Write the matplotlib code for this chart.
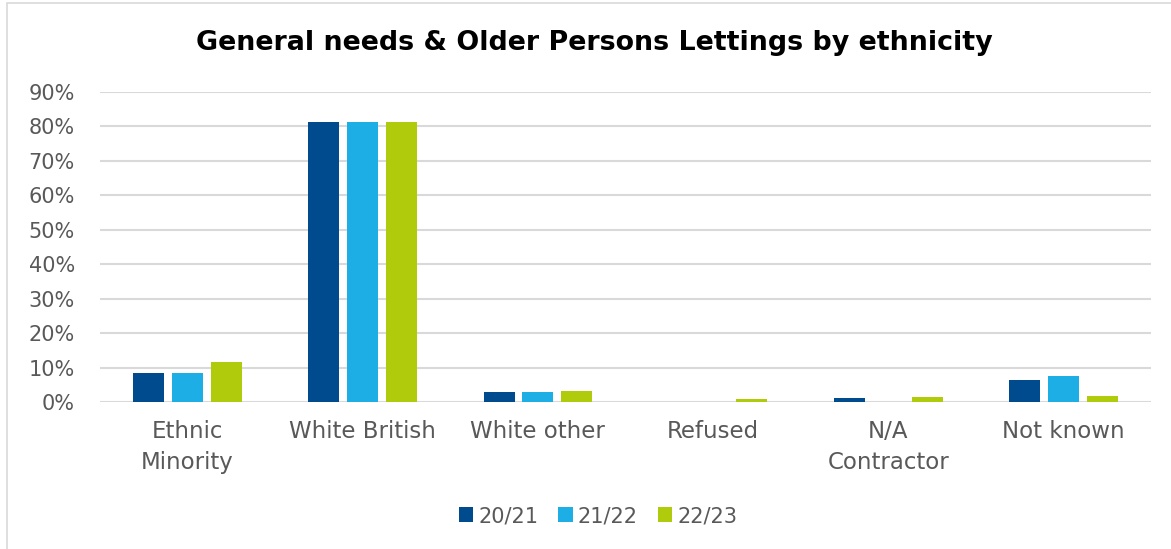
import matplotlib
matplotlib.use("Agg")
import matplotlib.pyplot as plt
from matplotlib.patches import Rectangle
import numpy as np

categories = ["Ethnic\nMinority", "White British", "White other", "Refused", "N/A\nContractor", "Not known"]
series_names = ["20/21", "21/22", "22/23"]
v_2021 = [8.3, 81.2, 3.0, 0.0, 1.2, 6.3]
v_2122 = [8.3, 81.2, 2.9, 0.0, 0.0, 7.5]
v_2223 = [11.7, 81.2, 3.2, 1.0, 1.4, 1.8]
colors = ["#004B8D", "#1CAEE4", "#B0CB0B"]
yticks = [0, 10, 20, 30, 40, 50, 60, 70, 80, 90]

W, H = 1171, 549
fig = plt.figure(figsize=(W / 100, H / 100), dpi=100)
fig.patch.set_facecolor("white")
fig.patches.append(Rectangle((7 / W, -0.1), 1.2, 1 - 3 / H + 0.1, transform=fig.transFigure,
                             fill=False, edgecolor="#D9D9D9", linewidth=1.2))

ax = fig.add_axes([100 / W, 1 - 402 / H, 1051 / W, 310 / H])
x = np.arange(len(categories))
bw = 0.177
pitch = 0.222
for i, (vals, name) in enumerate(zip([v_2021, v_2122, v_2223], series_names)):
    ax.bar(x + (i - 1) * pitch, vals, width=bw, color=colors[i], label=name, zorder=3)

ax.set_xlim(-0.5, len(categories) - 0.5)
ax.set_ylim(0, 90)
ax.set_yticks(yticks)
ax.set_yticklabels([f"{t}%" for t in yticks])
ax.set_xticks(x)
ax.set_xticklabels(categories, linespacing=1.45)
ax.yaxis.grid(True, color="#D9D9D9", linewidth=1.5, zorder=0)
ax.set_axisbelow(True)
for s in ax.spines.values():
    s.set_visible(False)
ax.tick_params(axis="both", length=0, labelcolor="#595959")
ax.tick_params(axis="x", pad=13, labelsize=16.5)
ax.tick_params(axis="y", pad=18, labelsize=15)
for lab in ax.get_yticklabels() + ax.get_xticklabels():
    lab.set_fontfamily("DejaVu Sans")

fig.text(594 / W, 1 - 43 / H, "General needs & Older Persons Lettings by ethnicity",
         ha="center", va="center", fontsize=19.4, fontweight="bold", color="black",
         family="DejaVu Sans")

leg = fig.legend(loc="center", bbox_to_anchor=(598 / W, 1 - 516 / H), ncol=3, frameon=False,
                 fontsize=15, handlelength=0.7, handleheight=0.7, handletextpad=0.25,
                 columnspacing=0.95)
for t in leg.get_texts():
    t.set_color("#595959")

fig.savefig("out.png", dpi=100)
